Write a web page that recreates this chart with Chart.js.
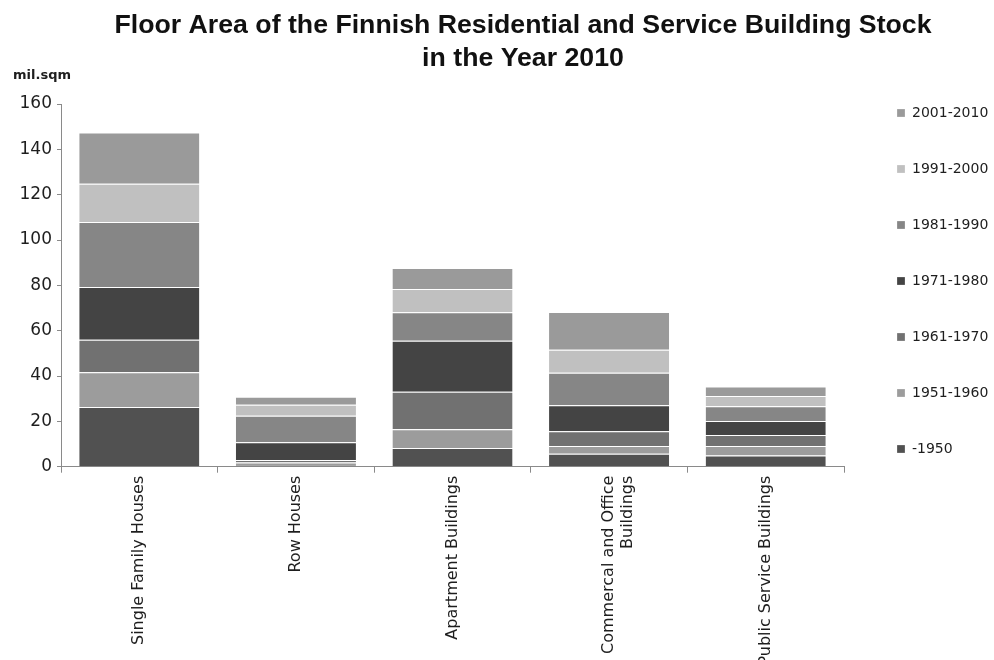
<!DOCTYPE html>
<html>
<head>
<meta charset="utf-8">
<title>Floor Area of the Finnish Residential and Service Building Stock</title>
<script src="https://cdn.jsdelivr.net/npm/chart.js@4.4.1/dist/chart.umd.min.js"></script>
<style>
    html, body { margin: 0; padding: 0; background: #fff; }
    #wrap { width: 994px; height: 660px; }
</style>
</head>
<body>
<div id="wrap"><canvas id="stockChart" width="994" height="660"></canvas></div>
<script>
// building types on the x axis
const buildingTypes = [
    'Single Family Houses',
    'Row Houses',
    'Apartment Buildings',
    ['Commercal and Office', 'Buildings'],
    'Public Service Buildings'
];

// construction periods, oldest first (bottom of each stack)
const periods = ['-1950', '1951-1960', '1961-1970', '1971-1980', '1981-1990', '1991-2000', '2001-2010'];
const periodColors = ['#515151', '#9c9c9c', '#717171', '#444444', '#868686', '#c0c0c0', '#9a9a9a'];

// floor area, mil. sqm, one array per building type in period order
const singleFamily = [26.3, 15.4, 14.3, 23.3, 28.7, 16.8, 22.6];
const rowHouses    = [0.8, 1.0, 1.2, 7.8, 11.7, 4.8, 3.6];
const apartments   = [8.3, 8.2, 16.6, 22.5, 12.5, 10.3, 9.3];
const commercial   = [5.7, 3.4, 6.5, 11.5, 14.3, 10.2, 16.6];
const publicServ   = [4.9, 4.2, 4.9, 6.2, 6.5, 4.5, 4.2];

const yTicks = [0, 20, 40, 60, 80, 100, 120, 140, 160];

const byType = [singleFamily, rowHouses, apartments, commercial, publicServ];

const datasets = periods.map((p, i) => ({
    label: p,
    data: byType.map(row => row[i]),
    backgroundColor: periodColors[i],
    borderColor: '#ffffff',
    borderWidth: { top: 1, right: 0, bottom: 0, left: 0 },
    borderSkipped: false,
    categoryPercentage: 1.0,
    barPercentage: 0.767
}));

const axisGrey = '#8a8a8a';
const textColor = '#1e1e1e';

// fixed legend column + title centring
const placementPlugin = {
    id: 'placement',
    afterInit(chart) {
        const legend = chart.legend;
        const fit = legend.fit;
        legend.fit = function () {
            fit.call(this);
            this.width = 150;
        };
    },
    afterLayout(chart) {
        const legend = chart.legend;
        legend.left += 11;
        legend.right += 11;
        legend.top += 64;
        legend.bottom += 64;
        chart.titleBlock.left = 52;
    }
};

new Chart(document.getElementById('stockChart'), {
    type: 'bar',
    data: { labels: buildingTypes, datasets: datasets },
    options: {
        responsive: false,
        animation: false,
        layout: { padding: { left: 13, right: 0, top: 0, bottom: 0 } },
        plugins: {
            title: {
                display: true,
                text: ['Floor Area of the Finnish Residential and Service Building Stock', 'in the Year 2010'],
                color: '#111',
                font: { family: '"Liberation Sans", Arial, sans-serif', size: 26.7, weight: 'bold', lineHeight: '33px' },
                padding: { top: 9.5, bottom: -7.3 }
            },
            subtitle: {
                display: true,
                text: 'mil.sqm',
                align: 'start',
                color: textColor,
                font: { family: '"DejaVu Sans", sans-serif', size: 13, weight: 'bold', lineHeight: 1.2 },
                padding: { top: 0, bottom: 20.2 }
            },
            legend: {
                position: 'right',
                align: 'start',
                reverse: true,
                labels: {
                    color: textColor,
                    boxWidth: 8,
                    boxHeight: 8,
                    padding: 42,
                    font: { family: '"DejaVu Sans", sans-serif', size: 14 }
                }
            },
            tooltip: { enabled: true }
        },
        scales: {
            x: {
                stacked: true,
                grid: { offset: true, drawOnChartArea: false, tickLength: 6, color: axisGrey },
                border: { color: axisGrey },
                ticks: {
                    autoSkip: false,
                    minRotation: 90,
                    maxRotation: 90,
                    padding: 3,
                    color: textColor,
                    font: { family: '"DejaVu Sans", sans-serif', size: 16 }
                },
                afterFit(scale) { scale.height = 193.3; }
            },
            y: {
                stacked: true,
                min: yTicks[0],
                max: yTicks[yTicks.length - 1],
                grid: { drawOnChartArea: false, tickLength: 4, color: axisGrey },
                border: { color: axisGrey },
                ticks: {
                    stepSize: yTicks[1] - yTicks[0],
                    padding: 5,
                    color: textColor,
                    font: { family: '"DejaVu Sans", sans-serif', size: 17 }
                },
                afterFit(scale) { scale.width = 48; }
            }
        }
    },
    plugins: [placementPlugin]
});
</script>
</body>
</html>
